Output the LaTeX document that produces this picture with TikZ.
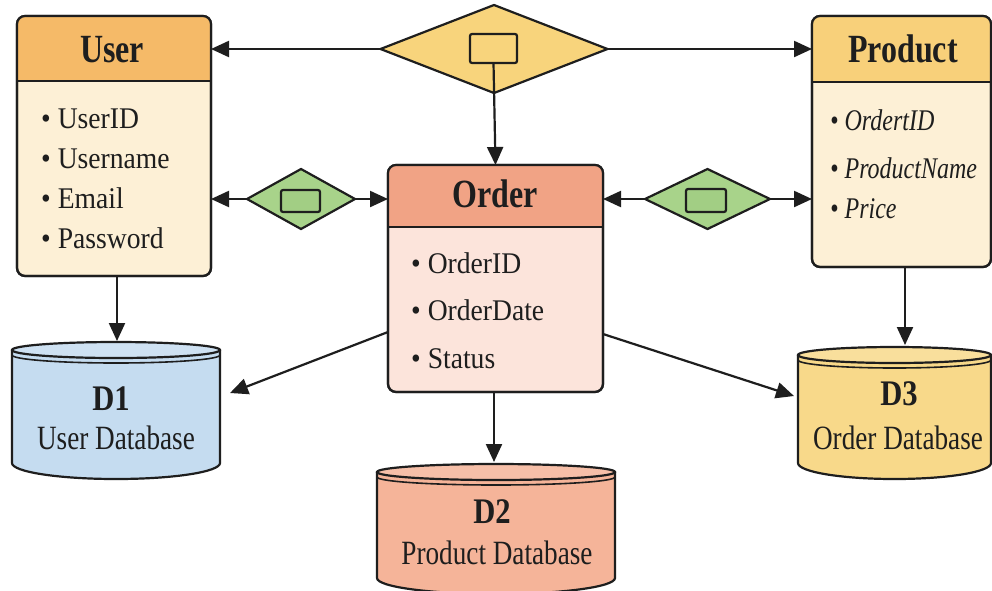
\documentclass[tikz,border=0pt]{standalone}
\usepackage{fontspec}
\setmainfont{Liberation Serif}
\newfontfamily\condfont[FakeStretch=0.8]{Liberation Serif}
\newfontfamily\dbfont[FakeStretch=0.85]{Liberation Serif}
\newfontfamily\itemfont[FakeStretch=0.92]{Liberation Serif}
\newfontfamily\itcond[FakeStretch=0.8]{Liberation Serif}
\usetikzlibrary{shapes.geometric,arrows.meta,calc}
\definecolor{ink}{HTML}{1E1E1E}
\definecolor{userhdr}{HTML}{F5BA68}
\definecolor{prodhdr}{HTML}{F8D07A}
\definecolor{ordhdr}{HTML}{F1A385}
\definecolor{cream}{HTML}{FDF0D6}
\definecolor{ordbody}{HTML}{FCE4DB}
\definecolor{diayel}{HTML}{F8D47C}
\definecolor{diagrn}{HTML}{A8D38A}
\definecolor{boxgrn}{HTML}{A2CE84}
\definecolor{dbblue}{HTML}{C5DCF0}
\definecolor{dbsalmon}{HTML}{F5B499}
\definecolor{dbyel}{HTML}{F8D98A}
\newcommand\entityhead[3]{%
  \begin{scope}
    \clip[rounded corners=8pt] (#1.south west) rectangle (#1.north east);
    \fill[#3] (#1.north west) rectangle ($(#1.north east)+(0,#2)$);
  \end{scope}
  \draw[ink,line width=2.2pt] ($(#1.north west)+(0,#2)$) -- ($(#1.north east)+(0,#2)$);
  \draw[ink,line width=2.2pt,rounded corners=8pt] (#1.south west) rectangle (#1.north east);}
\newcommand\dbcyl[6]{% L, R, cy, yb, color, bottom ry
  \pgfmathsetmacro\cxx{(#1+#2)/2}%
  \pgfmathsetmacro\rxx{(#2-#1)/2}%
  \fill[#5] (#1,#3) -- (#1,#4) arc[start angle=180,end angle=0,x radius=\rxx,y radius=#6] -- (#2,#3) -- cycle;
  \draw[ink,line width=2.2pt] (#1,#3) -- (#1,#4) arc[start angle=180,end angle=0,x radius=\rxx,y radius=#6] -- (#2,#3);
  \filldraw[fill=#5!85!white,draw=ink,line width=2.2pt] (\cxx,#3) ellipse [x radius=\rxx, y radius=8];
  \draw[ink,line width=1.6pt] (#1,{#3+5}) arc[start angle=180,end angle=0,x radius=\rxx,y radius=8];}
\begin{document}
\begin{tikzpicture}[x=1pt,y=-1pt,
  entity/.style={draw=ink, line width=2.2pt, rounded corners=8pt, inner sep=0pt, outer sep=0pt},
  ttl/.style={anchor=base, inner sep=0pt, text=ink, font=\condfont\bfseries\fontsize{40}{44}\selectfont},
  item/.style={anchor=base west, inner sep=0pt, text=ink, font=\itemfont\fontsize{30}{34}\selectfont},
  itemit/.style={anchor=base west, inner sep=0pt, text=ink, font=\itcond\itshape\fontsize{30}{34}\selectfont},
  dbname/.style={anchor=base, inner sep=0pt, text=ink, font=\dbfont\bfseries\fontsize{36}{40}\selectfont},
  dblabel/.style={anchor=base, inner sep=0pt, text=ink, font=\condfont\fontsize{34}{38}\selectfont},
  dia/.style={shape=diamond, draw=ink, line width=2.2pt, inner sep=0pt, outer sep=0pt},
  relbox/.style={draw=ink, line width=2.2pt, rounded corners=2pt, inner sep=0pt, outer sep=0pt},
  arr/.style={draw=ink, line width=2.2pt, -{Triangle[length=18pt,width=16pt]}}]
\useasboundingbox (0,0) rectangle (992,590);
\fill[white] (0,0) rectangle (992,590);

% databases
\dbcyl{12}{220}{350}{463}{dbblue}{16}
\dbcyl{377}{615}{472}{578}{dbsalmon}{16}
\dbcyl{798}{991}{355}{463}{dbyel}{16}
\node[dbname] (d1name) at (111,410) {D1};
\node[dblabel] (d1label) at (116,449) {User Database};
\node[dbname] (d2name) at (492,523) {D2};
\node[dblabel] (d2label) at (497,564) {Product Database};
\node[dbname] (d3name) at (899,405) {D3};
\node[dblabel] (d3label) at (898,449) {Order Database};

% entities
\node[entity, fill=cream, minimum width=194pt, minimum height=260pt] (user) at (114,146) {};
\entityhead{user}{65}{userhdr}
\node[ttl] (usertitle) at (112,62) {User};
\foreach \t/\y [count=\i] in {UserID/128,Username/168,Email/208,Password/248}
  \node[item] (useritem\i) at (41,\y) {\textbullet\ \t};

\node[entity, fill=ordbody, minimum width=215pt, minimum height=227pt] (order) at (495.5,278.5) {};
\entityhead{order}{62}{ordhdr}
\node[ttl] (ordertitle) at (495,207) {Order};
\foreach \t/\y [count=\i] in {OrderID/273,OrderDate/320,Status/368}
  \node[item] (orderitem\i) at (411,\y) {\textbullet\ \t};

\node[entity, fill=cream, minimum width=179pt, minimum height=251pt] (product) at (901.5,141.5) {};
\entityhead{product}{66}{prodhdr}
\node[ttl] (producttitle) at (903,62) {Product};
\foreach \t/\y [count=\i] in {OrdertID/130,ProductName/178,Price/218}
  \node[itemit] (productitem\i) at (830,\y) {\textbullet\ \t};

% relationships
\node[dia, fill=diayel, minimum width=227pt, minimum height=88pt] (reltop) at (494,49) {};
\node[relbox, fill=diayel, minimum width=47pt, minimum height=29pt] (reltopbox) at (493.5,48.5) {};
\node[dia, fill=diagrn, minimum width=108pt, minimum height=60pt] (relleft) at (301,199) {};
\node[relbox, fill=boxgrn, minimum width=39pt, minimum height=22pt] (relleftbox) at (300.5,201) {};
\node[dia, fill=diagrn, minimum width=125pt, minimum height=60pt] (relright) at (707.5,199) {};
\node[relbox, fill=boxgrn, minimum width=40pt, minimum height=23pt] (relrightbox) at (706,200.5) {};

% connectors
\draw[arr] (reltop.west) -- (reltop.west -| user.east);
\draw[arr] (reltop.east) -- (reltop.east -| product.west);
\draw[arr] (reltopbox.south) -- (order.north);
\draw[arr] (relleft.west) -- (relleft.west -| user.east);
\draw[arr] (relleft.east) -- (relleft.east -| order.west);
\draw[arr] (relright.west) -- (relright.west -| order.east);
\draw[arr] (relright.east) -- (relright.east -| product.west);

\coordinate (d1top) at (117,341);
\coordinate (d1side) at (230,393);
\coordinate (d2top) at (494,462);
\coordinate (d3top) at (905,345);
\coordinate (d3side) at (794,396);
\draw[arr] (user.south -| d1top) -- (d1top);
\draw[arr] ($(order.south west)+(0,-60)$) -- (d1side);
\draw[arr] (order.south -| d2top) -- (d2top);
\draw[arr] (product.south -| d3top) -- (d3top);
\draw[arr] ($(order.south east)+(0,-58)$) -- (d3side);
\end{tikzpicture}
\end{document}
